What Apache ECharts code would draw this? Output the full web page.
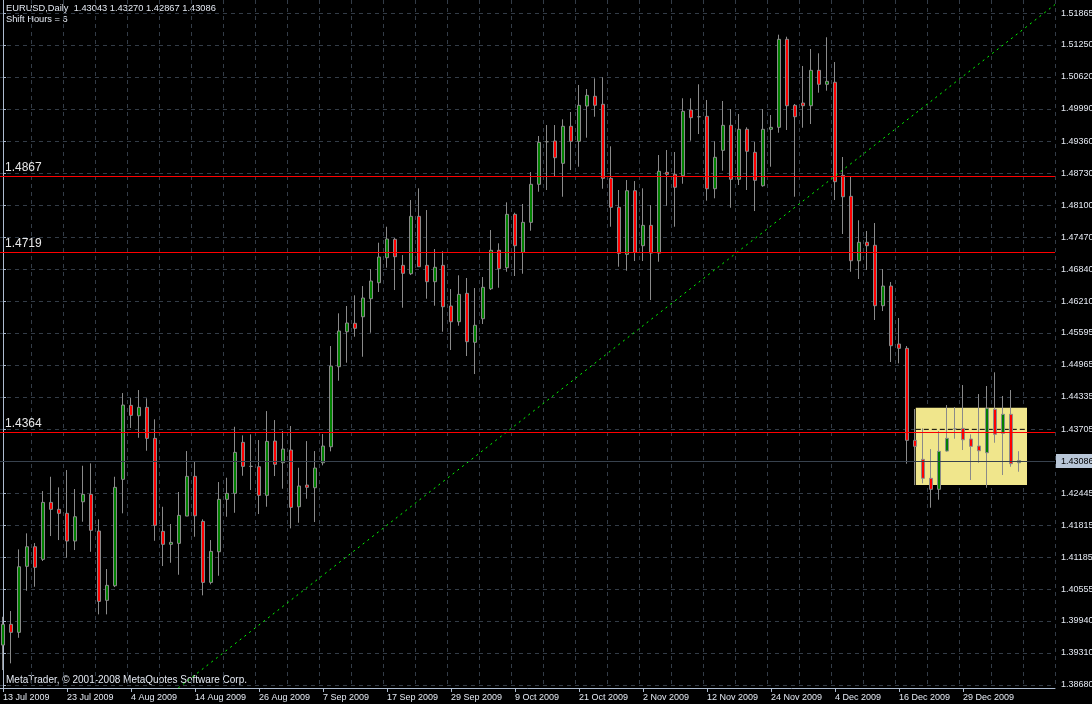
<!DOCTYPE html>
<html><head><meta charset="utf-8">
<script src="https://cdn.jsdelivr.net/npm/echarts@6/dist/echarts.min.js"></script>
<style>html,body{margin:0;padding:0;background:#000;overflow:hidden;}#c{width:1092px;height:704px;}</style>
</head><body><div id="c"></div>
<script>
const dates = [
'13 Jul 2009','14 Jul 2009','15 Jul 2009','16 Jul 2009','17 Jul 2009',
'20 Jul 2009','21 Jul 2009','22 Jul 2009','23 Jul 2009','24 Jul 2009',
'27 Jul 2009','28 Jul 2009','29 Jul 2009','30 Jul 2009','31 Jul 2009',
'3 Aug 2009','4 Aug 2009','5 Aug 2009','6 Aug 2009','7 Aug 2009',
'10 Aug 2009','11 Aug 2009','12 Aug 2009','13 Aug 2009','14 Aug 2009',
'17 Aug 2009','18 Aug 2009','19 Aug 2009','20 Aug 2009','21 Aug 2009',
'24 Aug 2009','25 Aug 2009','26 Aug 2009','27 Aug 2009','28 Aug 2009',
'31 Aug 2009','1 Sep 2009','2 Sep 2009','3 Sep 2009','4 Sep 2009',
'7 Sep 2009','8 Sep 2009','9 Sep 2009','10 Sep 2009','11 Sep 2009',
'14 Sep 2009','15 Sep 2009','16 Sep 2009','17 Sep 2009','18 Sep 2009',
'21 Sep 2009','22 Sep 2009','23 Sep 2009','24 Sep 2009','25 Sep 2009',
'28 Sep 2009','29 Sep 2009','30 Sep 2009','1 Oct 2009','2 Oct 2009',
'5 Oct 2009','6 Oct 2009','7 Oct 2009','8 Oct 2009','9 Oct 2009',
'12 Oct 2009','13 Oct 2009','14 Oct 2009','15 Oct 2009','16 Oct 2009',
'19 Oct 2009','20 Oct 2009','21 Oct 2009','22 Oct 2009','23 Oct 2009',
'26 Oct 2009','27 Oct 2009','28 Oct 2009','29 Oct 2009','30 Oct 2009',
'2 Nov 2009','3 Nov 2009','4 Nov 2009','5 Nov 2009','6 Nov 2009',
'9 Nov 2009','10 Nov 2009','11 Nov 2009','12 Nov 2009','13 Nov 2009',
'16 Nov 2009','17 Nov 2009','18 Nov 2009','19 Nov 2009','20 Nov 2009',
'23 Nov 2009','24 Nov 2009','25 Nov 2009','26 Nov 2009','27 Nov 2009',
'30 Nov 2009','1 Dec 2009','2 Dec 2009','3 Dec 2009','4 Dec 2009',
'7 Dec 2009','8 Dec 2009','9 Dec 2009','10 Dec 2009','11 Dec 2009',
'14 Dec 2009','15 Dec 2009','16 Dec 2009','17 Dec 2009','18 Dec 2009',
'21 Dec 2009','22 Dec 2009','23 Dec 2009','24 Dec 2009',
'28 Dec 2009','29 Dec 2009','30 Dec 2009','31 Dec 2009',
'4 Jan 2010','5 Jan 2010','6 Jan 2010','7 Jan 2010','8 Jan 2010'
];
const futureSlots = ['', '', '', ''];

const opens = [
1.39463,1.39870,1.39713,1.41009,1.41394,1.41146,1.42265,1.42128,1.42050,1.41506,
1.42277,1.42423,1.41702,1.40341,1.40628,1.42717,1.44170,1.43966,1.44131,1.43522,
1.41696,1.41441,1.41460,1.41996,1.42776,1.41892,1.40694,1.41295,1.42324,1.42442,
1.43444,1.42972,1.42965,1.42403,1.43469,1.43043,1.43293,1.42179,1.42605,1.42552,
1.43043,1.43357,1.44929,1.45616,1.45781,1.45910,1.46264,1.46578,1.47069,1.47430,
1.46920,1.46755,1.47882,1.46920,1.46598,1.46920,1.46121,1.45812,1.46370,1.45408,
1.45871,1.46460,1.47215,1.46873,1.47921,1.47175,1.47764,1.48511,1.49347,1.49361,
1.48923,1.49650,1.49355,1.50048,1.50239,1.50082,1.48628,1.48059,1.47136,1.48385,
1.47305,1.47705,1.47161,1.48746,1.48707,1.48680,1.49970,1.49838,1.49846,1.48424,
1.49178,1.49669,1.48609,1.49591,1.49139,1.48483,1.49591,1.49630,1.51358,1.50062,
1.50107,1.50054,1.50749,1.50475,1.50514,1.48687,1.48275,1.47010,1.47372,1.47313,
1.46127,1.46513,1.45374,1.45290,1.43483,1.43110,1.42737,1.42521,1.43273,1.43711,
1.43719,1.43509,1.43371,1.43240,1.44092,1.43621,1.43994,1.43043
];
const highs = [
1.40019,1.40131,1.41342,1.41657,1.41466,1.42487,1.42768,1.42560,1.42900,1.42527,
1.42984,1.43031,1.41932,1.40956,1.42768,1.44412,1.44314,1.44471,1.44308,1.43896,
1.42179,1.41839,1.42468,1.43273,1.43057,1.41932,1.41525,1.42664,1.42749,1.43750,
1.43581,1.43601,1.43489,1.44058,1.43882,1.43666,1.43764,1.42945,1.43469,1.43273,
1.43607,1.45335,1.45977,1.46121,1.46331,1.46513,1.46847,1.47364,1.47678,1.47456,
1.47122,1.48202,1.48432,1.48006,1.47240,1.47195,1.46454,1.46724,1.46671,1.46474,
1.46690,1.47613,1.47352,1.48157,1.47953,1.48124,1.48752,1.49459,1.49675,1.49675,
1.49787,1.49931,1.50461,1.50382,1.50592,1.50612,1.49257,1.48399,1.48595,1.48575,
1.48432,1.48104,1.49086,1.49184,1.49145,1.50200,1.50200,1.50475,1.50166,1.49355,
1.50147,1.49989,1.49891,1.49630,1.49341,1.49989,1.49872,1.51449,1.51409,1.50088,
1.50834,1.51168,1.51083,1.51398,1.50912,1.49047,1.48674,1.47804,1.47594,1.47751,
1.46847,1.46592,1.45885,1.45335,1.44098,1.43719,1.43312,1.43666,1.44176,1.44137,
1.44569,1.43601,1.44392,1.44550,1.44819,1.44353,1.44471,1.43270
];
const lows = [
1.38972,1.39104,1.39606,1.40529,1.40608,1.41113,1.41604,1.41525,1.41178,1.41329,
1.41885,1.41295,1.40066,1.40066,1.40602,1.42050,1.43725,1.43534,1.43279,1.41511,
1.41015,1.41079,1.40844,1.41996,1.41590,1.40439,1.40655,1.40824,1.41983,1.42061,
1.42788,1.42507,1.42036,1.42179,1.42782,1.42533,1.41755,1.41865,1.42336,1.41879,
1.42992,1.43267,1.44654,1.45007,1.45518,1.45125,1.45596,1.46396,1.46873,1.46435,
1.46087,1.46729,1.46892,1.46264,1.46127,1.45616,1.45257,1.45734,1.45139,1.44785,
1.45767,1.46435,1.46480,1.46794,1.46710,1.46755,1.47599,1.48365,1.48399,1.48660,
1.48267,1.48791,1.48856,1.49426,1.49838,1.48424,1.47678,1.46892,1.46814,1.47004,
1.47004,1.46238,1.46991,1.48090,1.47678,1.48522,1.49367,1.49498,1.48189,1.48236,
1.48778,1.48051,1.48497,1.48399,1.47986,1.48463,1.48856,1.49524,1.49577,1.48267,
1.49622,1.49695,1.50310,1.50349,1.48202,1.47535,1.46794,1.46651,1.46828,1.45846,
1.46022,1.45021,1.44995,1.43024,1.42605,1.42639,1.42160,1.42317,1.43259,1.43515,
1.43293,1.42704,1.43043,1.42552,1.43436,1.42802,1.42965,1.42867
];
const closes = [
1.39870,1.39713,1.41001,1.41394,1.40989,1.42265,1.42128,1.42050,1.41506,1.41983,
1.42423,1.41716,1.40321,1.40636,1.42560,1.44176,1.43974,1.44131,1.43522,1.41814,
1.41441,1.41480,1.42010,1.42776,1.42002,1.40694,1.41303,1.42324,1.42442,1.43247,
1.42972,1.42972,1.42403,1.43463,1.43012,1.43312,1.42167,1.42586,1.42560,1.42939,
1.43371,1.44942,1.45630,1.45787,1.45683,1.46278,1.46612,1.47083,1.47436,1.47089,
1.46763,1.47882,1.46892,1.46598,1.46881,1.46107,1.45812,1.46350,1.45420,1.45742,
1.46488,1.47215,1.46853,1.47921,1.47305,1.47764,1.48511,1.49335,1.49347,1.49033,
1.49650,1.49355,1.50062,1.50258,1.50062,1.48628,1.48059,1.47156,1.48385,1.47175,
1.47705,1.47161,1.48766,1.48707,1.48452,1.49944,1.49819,1.49838,1.48424,1.49041,
1.49669,1.48609,1.49591,1.49159,1.48589,1.49591,1.49630,1.51358,1.50054,1.49838,
1.50054,1.50749,1.50475,1.50533,1.48562,1.48267,1.47010,1.47372,1.47305,1.46127,
1.46513,1.45341,1.45290,1.43483,1.43365,1.42737,1.42521,1.43267,1.43522,1.43711,
1.43495,1.43365,1.43279,1.44112,1.43601,1.43994,1.43024,1.43086
];

const yTicks = [1.38680,1.39310,1.39940,1.40555,1.41185,1.41815,1.42445,1.43705,
  1.44335,1.44965,1.45595,1.46210,1.46840,1.47470,1.48100,1.48730,1.49360,1.49990,
  1.50620,1.51250,1.51865];
const levels = [1.4867, 1.4719, 1.4364];
const bidPrice = 1.43086;
const trendPoints = [[21.9, 1.3862], [131.5, 1.5204]];
const boxX = [114.1, 128.0];
const boxY = [1.42605, 1.44123];
const boxDashLevel = 1.43699;
const headerLine1 = 'EURUSD,Daily  1.43043 1.43270 1.42867 1.43086';
const headerLine2 = 'Shift Hours = 6';
const footerText = 'MetaTrader, \u00a9 2001-2008 MetaQuotes Software Corp.';

const FONT = 'Tahoma, "Liberation Sans", Arial, sans-serif';
const TXT = '#e4e9f2';
const FRAME = '#aebcd0';
const GRIDC = '#333c47';

const cats = dates.concat(futureSlots);
const candleData = dates.map((d, i) => [opens[i], closes[i], lows[i], highs[i]]);
const lastIdx = dates.length;
const X_MIN = -0.5, X_MAX = cats.length - 0.5;

const headerGraphics = [
  {type: 'text', left: 6, top: 4, silent: true, style: {text: headerLine1, fill: TXT, font: '9.3px ' + FONT}},
  {type: 'text', left: 6, top: 15, silent: true, style: {text: headerLine2, fill: TXT, font: '9.3px ' + FONT}},
  {type: 'text', left: 6, top: 675, silent: true, style: {text: footerText, fill: TXT, font: '10px ' + FONT}}
];

const chart = echarts.init(document.getElementById('c'), null, {renderer: 'canvas', width: 1092, height: 704});
chart.setOption({
  backgroundColor: '#000000',
  animation: false,
  grid: {left: -1, right: 37, top: 0, bottom: 16, containLabel: false, outerBoundsMode: 'none'},
  xAxis: [{
    type: 'category', data: cats, boundaryGap: true, position: 'bottom',
    axisLine: {show: true, lineStyle: {color: FRAME, width: 1}},
    axisTick: {show: true, alignWithLabel: true, length: 4, interval: (i) => i % 8 === 0 && i < lastIdx, lineStyle: {color: FRAME}},
    axisLabel: {show: true, interval: (i) => i % 8 === 0 && i < lastIdx, align: 'left', margin: 5,
      color: TXT, fontSize: 9, fontFamily: FONT},
    splitLine: {show: false}
  }, {
    type: 'value', min: X_MIN, max: X_MAX, interval: 4, position: 'top',
    axisLine: {show: false}, axisTick: {show: false}, axisLabel: {show: false},
    splitLine: {show: true, lineStyle: {color: GRIDC, type: [4, 4], width: 1}}
  }],
  yAxis: [{
    type: 'value', position: 'right', min: 1.3862, max: 1.5213, scale: true,
    axisLine: {show: true, lineStyle: {color: FRAME, width: 1}},
    axisTick: {show: true, inside: false, length: 3, customValues: yTicks, lineStyle: {color: FRAME}},
    axisLabel: {show: true, customValues: yTicks, margin: 6, color: TXT, fontSize: 9, fontFamily: FONT,
      formatter: (v) => Number(v).toFixed(5)},
    splitLine: {show: true, lineStyle: {color: GRIDC, type: [4, 4], width: 1}}
  }],
  series: [
    {
      name: 'box', type: 'line', xAxisIndex: 1, yAxisIndex: 0, z: 1,
      data: [], symbol: 'none',
      markArea: {silent: true, itemStyle: {color: '#f0e68c', opacity: 1},
        data: [[{xAxis: boxX[0], yAxis: boxY[1]}, {xAxis: boxX[1], yAxis: boxY[0]}]]}
    },
    {
      name: 'boxLine', type: 'line', xAxisIndex: 1, yAxisIndex: 0, z: 1.5,
      symbol: 'none', silent: true,
      data: [[boxX[0], boxDashLevel], [boxX[1], boxDashLevel]],
      lineStyle: {color: '#000000', width: 1, type: [5, 3]}
    },
    {
      name: 'EURUSD', type: 'candlestick', xAxisIndex: 0, yAxisIndex: 0, z: 2,
      data: candleData, barWidth: 4,
      itemStyle: {color: '#008000', color0: '#ff0000', borderColor: '#8a8a8a', borderColor0: '#8a8a8a',
        borderColorDoji: '#8a8a8a', borderWidth: 1}
    },
    {
      name: 'trend', type: 'line', xAxisIndex: 1, yAxisIndex: 0, z: 3,
      symbol: 'none', silent: true, data: trendPoints,
      lineStyle: {color: '#00ff00', width: 1, type: [2, 4]}
    }
  ],
  graphic: headerGraphics
});

// Level lines, bid line and price box placed through the chart's own scales (pixel-snapped).
const xL = chart.convertToPixel({xAxisIndex: 1}, X_MIN);
const xR = chart.convertToPixel({xAxisIndex: 1}, X_MAX);
const snap = (v) => Math.round(chart.convertToPixel({yAxisIndex: 0}, v)) + 0.5;
const overlay = [];
const yb = snap(bidPrice);
overlay.push({type: 'line', z: 90, silent: true, shape: {x1: xL, y1: yb, x2: xR, y2: yb},
  style: {stroke: '#38424e', lineWidth: 1}});
levels.forEach((v) => {
  const y = snap(v);
  overlay.push({type: 'line', z: 95, silent: true, shape: {x1: xL, y1: y, x2: xR, y2: y},
    style: {stroke: '#ff0000', lineWidth: 1}});
  overlay.push({type: 'text', z: 96, silent: true, x: xL + 6, y: y - 3,
    style: {text: v.toFixed(4), fill: '#e8e8e8', font: '12px ' + FONT, align: 'left', verticalAlign: 'bottom'}});
});
overlay.push({type: 'rect', z: 97, silent: true, shape: {x: xR + 1, y: yb - 7.5, width: 1092 - xR, height: 14},
  style: {fill: '#b9c7d8'}});
overlay.push({type: 'text', z: 98, silent: true, x: xR + 6, y: yb,
  style: {text: bidPrice.toFixed(5), fill: '#000000', font: '9px ' + FONT, align: 'left', verticalAlign: 'middle'}});
chart.setOption({graphic: headerGraphics.concat(overlay)});
</script>
</body></html>
